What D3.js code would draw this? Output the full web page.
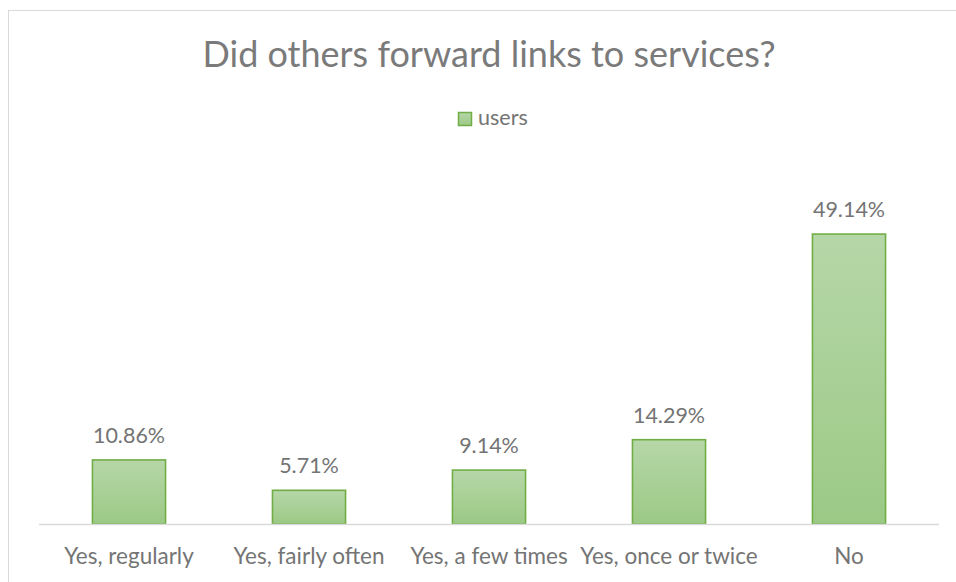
<!DOCTYPE html>
<html>
<head>
<meta charset="utf-8">
<script src="https://cdn.jsdelivr.net/npm/d3@7"></script>
<style>
  html, body { margin: 0; padding: 0; background: #ffffff; }
  svg { display: block; }
  text { font-family: Lato, "Open Sans", sans-serif; }
</style>
</head>
<body>
<svg id="chart" width="956" height="582"></svg>
<script>
// Survey answers and their share of users (percent)
const categories = ["Yes, regularly", "Yes, fairly often", "Yes, a few times", "Yes, once or twice", "No"];
const users = [10.86, 5.71, 9.14, 14.29, 49.14];
const seriesName = "users";
const title = "Did others forward links to services?";

const W = 956, H = 582;
const svg = d3.select("#chart");

// gradient fill used by the bars and the legend key
const defs = svg.append("defs");
const grad = defs.append("linearGradient")
  .attr("id", "barFill").attr("x1", 0).attr("y1", 0).attr("x2", 0).attr("y2", 1);
grad.append("stop").attr("offset", "0%").attr("stop-color", "#b6d7a8");
grad.append("stop").attr("offset", "100%").attr("stop-color", "#9cc986");

// chart frame
svg.append("rect")
  .attr("x", 8.5).attr("y", 10.5)
  .attr("width", W + 10).attr("height", H + 10)
  .attr("fill", "#ffffff").attr("stroke", "#d9d9d9").attr("stroke-width", 1);

const plot = { left: 39, right: 939, top: 170, bottom: 524 };

const x = d3.scaleBand()
  .domain(categories)
  .range([plot.left, plot.right])
  .paddingInner(0.594)
  .paddingOuter(0.297);

const y = d3.scaleLinear()
  .domain([0, 60])
  .range([plot.bottom, plot.top]);

const textColor = "#747474";

// title
svg.append("text")
  .attr("x", 489).attr("y", 67)
  .attr("text-anchor", "middle")
  .attr("font-size", 36)
  .attr("fill", "#7a7a7a")
  .text(title);

// legend
const legend = svg.append("g");
legend.append("rect")
  .attr("x", 458.5).attr("y", 112.5).attr("width", 13).attr("height", 13)
  .attr("fill", "url(#barFill)").attr("stroke", "#70ad47").attr("stroke-width", 1.5);
legend.append("text")
  .attr("x", 478).attr("y", 125)
  .attr("font-size", 21.5)
  .attr("fill", textColor)
  .text(seriesName);

// bars
const rows = categories.map((c, i) => ({ cat: c, value: users[i] }));

svg.append("g").selectAll("rect")
  .data(rows)
  .join("rect")
  .attr("x", d => x(d.cat))
  .attr("y", d => y(d.value))
  .attr("width", x.bandwidth())
  .attr("height", d => y(0) - y(d.value))
  .attr("fill", "url(#barFill)")
  .attr("stroke", "#70ad47")
  .attr("stroke-width", 1.6);

// value labels
svg.append("g").selectAll("text")
  .data(rows)
  .join("text")
  .attr("x", d => x(d.cat) + x.bandwidth() / 2)
  .attr("y", d => y(d.value) - 17)
  .attr("text-anchor", "middle")
  .attr("font-size", 21.5)
  .attr("fill", textColor)
  .text(d => d.value.toFixed(2) + "%");

// category axis
const xAxis = svg.append("g")
  .attr("transform", `translate(0,${plot.bottom})`)
  .call(d3.axisBottom(x).tickSize(0));
xAxis.select(".domain")
  .attr("stroke", "#d9d9d9").attr("stroke-width", 1.5)
  .attr("d", `M${plot.left},0.5H${plot.right}`);
xAxis.selectAll(".tick text")
  .attr("font-family", "Lato, 'Open Sans', sans-serif")
  .attr("font-size", 22.5)
  .attr("fill", textColor)
  .attr("dy", 0)
  .attr("y", 40);
</script>
</body>
</html>
